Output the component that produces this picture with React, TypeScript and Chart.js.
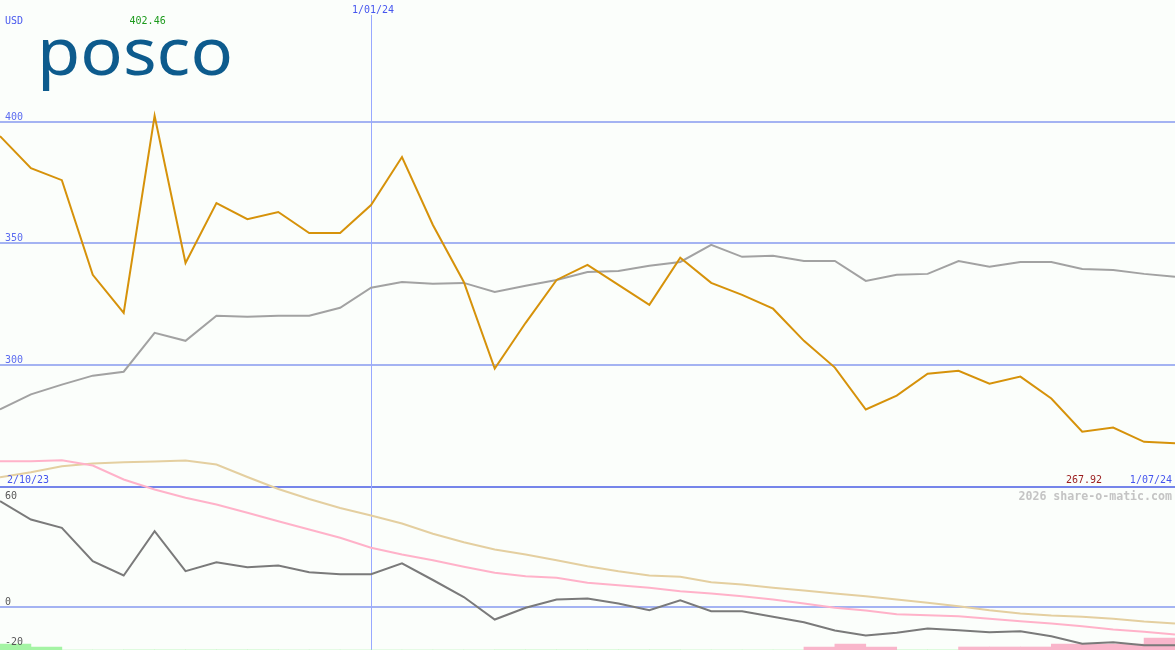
import React, { useEffect, useRef } from "react";
import { Chart, registerables } from "chart.js";

Chart.register(...registerables);

// ---- data ----
const dateLabels = ["2/10/23", "1/01/24", "1/07/24"];
const markerIndex = 12;
const currency = "USD";
const brand = "posco";
const copyright = "2026 share-o-matic.com";
const maxLabel = "402.46";
const minLabel = "267.92";

const price = [
  394.1, 380.9, 376.0, 337.1, 321.5, 402.46, 342.0, 366.6, 360.0, 362.9,
  354.3, 354.3, 365.8, 385.5, 357.6, 334.2, 298.6, 317.4, 335.0, 341.2,
  333.0, 324.8, 344.1, 333.8, 328.9, 323.2, 310.0, 299.0, 281.8, 287.5,
  296.5, 297.7, 292.4, 295.3, 286.3, 272.7, 274.4, 268.5, 267.92,
];
const priceAvg = [
  281.8, 288.0, 292.0, 295.7, 297.3, 313.3, 310.0, 320.3, 319.9, 320.3,
  320.3, 323.6, 331.8, 334.2, 333.4, 333.8, 330.1, 332.6, 335.0, 338.3,
  338.7, 340.8, 342.4, 349.4, 344.5, 344.9, 342.8, 342.8, 334.6, 337.1,
  337.5, 342.8, 340.4, 342.4, 342.4, 339.5, 339.1, 337.5, 336.3,
];
const oscFast = [
  52.9, 43.75, 39.6, 22.9, 15.75, 37.9, 17.9, 22.4, 19.9, 20.75,
  17.4, 16.4, 16.4, 21.8, 13.5, 5.0, -6.25, -0.4, 3.75, 4.25,
  1.75, -1.6, 3.4, -2.1, -2.1, -4.9, -7.6, -11.75, -14.25, -12.9,
  -10.75, -11.6, -12.6, -12.1, -14.6, -18.4, -17.6, -19.1, -19.1,
];
const oscSignal = [
  72.9, 72.9, 73.4, 70.75, 63.75, 58.75, 54.6, 51.25, 47.1, 42.9,
  38.75, 34.6, 29.6, 26.25, 23.4, 20.1, 17.1, 15.4, 14.6, 12.1,
  10.9, 9.6, 7.9, 6.75, 5.4, 3.75, 1.75, -0.4, -1.75, -3.6,
  -4.1, -4.6, -5.9, -7.1, -8.25, -9.6, -11.25, -12.4, -13.75,
];
const oscSlow = [
  64.9, 67.4, 70.4, 71.75, 72.4, 72.75, 73.25, 71.25, 65.0, 59.0,
  54.0, 49.5, 45.75, 41.75, 36.6, 32.4, 28.75, 26.25, 23.4, 20.4,
  17.9, 15.75, 15.1, 12.4, 11.25, 9.6, 8.25, 6.75, 5.4, 3.75,
  2.1, 0.4, -1.6, -3.25, -4.25, -4.9, -5.9, -7.25, -8.25,
];
const histogram = [
  2, 1, 0, 0, 0, 0, 0, 0, 0, 0,
  0, 0, 0, 0, 0, 0, 0, 0, 0, 0,
  0, 0, 0, 0, 0, 0, -1, -2, -1, 0,
  0, -1, -1, -1, -2, -2, -2, -4,
];
const priceTicks = [300, 350, 400];
const oscTicks = [60, 0, -20];

const W = 1175;
const H = 650;

const overlay = {
  id: "overlay",
  beforeDraw(chart: any) {
    const ctx = chart.ctx;
    ctx.save();
    ctx.fillStyle = "#fbfefb";
    ctx.fillRect(0, 0, chart.width, chart.height);
    ctx.restore();
  },
  beforeDatasetsDraw(chart: any) {
    const ctx = chart.ctx;
    const { x, yp, yo } = chart.scales;
    ctx.save();
    ctx.fillStyle = "#a4b3f2";
    priceTicks.forEach((t) => {
      const py = Math.round(yp.getPixelForValue(t));
      ctx.fillRect(0, py - 1, chart.width, 2);
    });
    const zy = Math.round(yo.getPixelForValue(0));
    ctx.fillRect(0, zy - 1, chart.width, 2);
    ctx.fillStyle = "#7585ea";
    const dy = Math.round(yo.getPixelForValue(oscTicks[0]));
    ctx.fillRect(0, dy - 1, chart.width, 2);
    ctx.fillStyle = "#98a8ff";
    const vx = Math.round(x.getPixelForValue(markerIndex));
    ctx.fillRect(vx, 15, 1, chart.height);
    ctx.restore();
  },
  afterDatasetsDraw(chart: any) {
    const ctx = chart.ctx;
    const { x, yp, yo } = chart.scales;
    ctx.save();
    const mono = "10px 'DejaVu Sans Mono', monospace";
    ctx.font = mono;
    ctx.textBaseline = "alphabetic";

    // price tick labels
    ctx.fillStyle = "#5c6cf0";
    ctx.textAlign = "left";
    priceTicks.forEach((t) => {
      ctx.fillText(String(t), 5, Math.round(yp.getPixelForValue(t)) - 2);
    });

    // currency
    ctx.fillStyle = "#4858ee";
    ctx.fillText(currency, 5, 24);

    // max label
    let maxI = 0;
    price.forEach((v, i) => { if (v > price[maxI]) maxI = i; });
    ctx.fillStyle = "#1c9a1c";
    ctx.textAlign = "center";
    ctx.fillText(maxLabel, x.getPixelForValue(maxI) - 7, 24);

    // date labels
    ctx.fillStyle = "#4656ee";
    ctx.fillText(dateLabels[1], x.getPixelForValue(markerIndex) + 2, 13);
    ctx.textAlign = "left";
    ctx.fillText(dateLabels[0], 7, 483);
    ctx.textAlign = "right";
    ctx.fillText(dateLabels[2], W - 3, 483);

    // min label
    ctx.fillStyle = "#9a1c1c";
    ctx.fillText(minLabel, W - 73, 483);

    // copyright
    ctx.font = "bold 11.6px 'DejaVu Sans Mono', monospace";
    ctx.fillStyle = "#c4c4c4";
    ctx.fillText(copyright, W - 3, 500);

    // oscillator labels
    ctx.font = mono;
    ctx.textAlign = "left";
    ctx.fillStyle = "#585858";
    ctx.fillText(String(oscTicks[0]), 5, Math.round(yo.getPixelForValue(oscTicks[0])) + 12);
    ctx.fillText(String(oscTicks[1]), 5, Math.round(yo.getPixelForValue(oscTicks[1])) - 2);
    ctx.fillText(String(oscTicks[2]), 5, Math.round(yo.getPixelForValue(oscTicks[2])) - 2);

    // logo
    ctx.font = "400 66px 'Noto Sans', sans-serif";
    ctx.fillStyle = "#0d5b8d";
    const mw = ctx.measureText(brand).width;
    ctx.translate(37, 75);
    ctx.scale(196 / mw, 1);
    ctx.textAlign = "left";
    ctx.fillText(brand, 0, 0);
    ctx.restore();
  },
};

export default function App() {
  const ref = useRef<HTMLCanvasElement | null>(null);

  useEffect(() => {
    if (!ref.current) return;
    const pts = (arr: number[]) => arr.map((v, i) => ({ x: i, y: v }));
    const chart = new Chart(ref.current, {
      type: "line",
      data: {
        datasets: [
          {
            type: "line",
            data: pts(price),
            borderColor: "#d6920a",
            borderWidth: 2,
            pointRadius: 0,
            yAxisID: "yp",
            order: 1,
          },
          {
            type: "line",
            data: pts(priceAvg),
            borderColor: "#a2a2a2",
            borderWidth: 2,
            pointRadius: 0,
            yAxisID: "yp",
            order: 2,
          },
          {
            type: "line",
            data: pts(oscFast),
            borderColor: "#7a7a7a",
            borderWidth: 2,
            pointRadius: 0,
            yAxisID: "yo",
            order: 3,
          },
          {
            type: "line",
            data: pts(oscSignal),
            borderColor: "#ffb2c9",
            borderWidth: 2,
            pointRadius: 0,
            yAxisID: "yo",
            order: 4,
          },
          {
            type: "line",
            data: pts(oscSlow),
            borderColor: "#e4cfa0",
            borderWidth: 2,
            pointRadius: 0,
            yAxisID: "yo",
            order: 5,
          },
          {
            type: "bar",
            data: histogram.map((v, i) => ({ x: i + 0.5, y: Math.abs(v) })),
            backgroundColor: histogram.map((v) => (v >= 0 ? "#a4f4a4" : "#f9b6cb")),
            borderWidth: 0,
            barPercentage: 1,
            categoryPercentage: 1,
            grouped: false,
            yAxisID: "yh",
            order: 6,
          } as any,
        ],
      },
      options: {
        animation: false,
        responsive: false,
        devicePixelRatio: 1,
        layout: { padding: 0 },
        plugins: { legend: { display: false }, tooltip: { enabled: false } },
        elements: { line: { tension: 0 }, point: { radius: 0 } },
        scales: {
          x: { type: "linear", min: 0, max: price.length - 1, offset: false, display: false },
          yp: { type: "linear", min: 183, max: 450, display: false },
          yo: { type: "linear", min: -21.5, max: 303.5, display: false },
          yh: { type: "linear", min: 0, max: H / 3, display: false },
        },
      } as any,
      plugins: [overlay],
    });
    return () => chart.destroy();
  }, []);

  return (
    <div style={{ position: "fixed", left: 0, top: 0, width: W, height: H }}>
      <canvas ref={ref} width={W} height={H} style={{ display: "block" }} />
    </div>
  );
}
